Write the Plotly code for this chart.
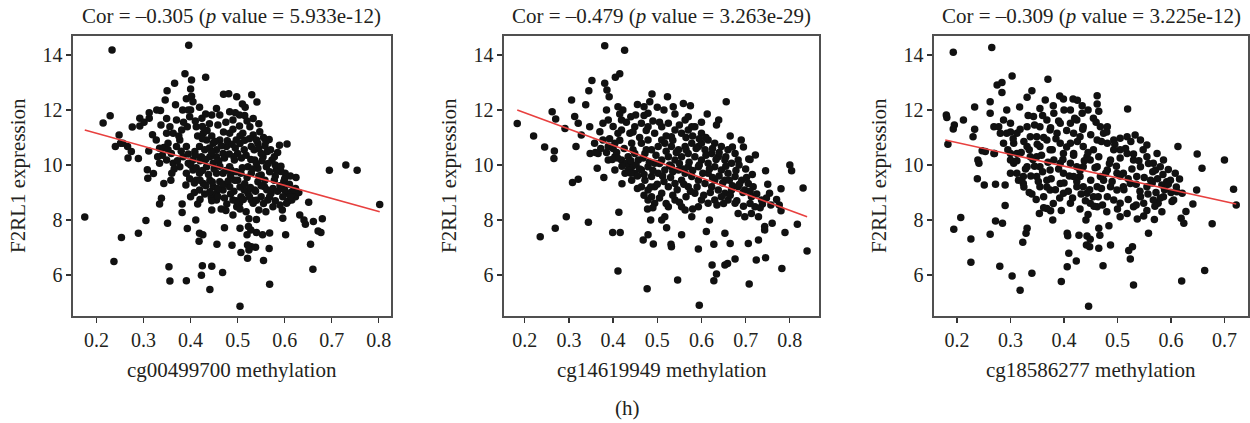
import plotly.graph_objects as go

# ---------------- data ----------------
titles = ["Cor = \u20130.305 (<i>p</i> value = 5.933e-12)",
          "Cor = \u20130.479 (<i>p</i> value = 3.263e-29)",
          "Cor = \u20130.309 (<i>p</i> value = 3.225e-12)"]
x_titles = ["cg00499700 methylation", "cg14619949 methylation", "cg18586277 methylation"]
y_title = "F2RL1 expression"
panel_label = "(h)"

x_ticks_1 = [0.2, 0.3, 0.4, 0.5, 0.6, 0.7, 0.8]
x_ticks_2 = [0.2, 0.3, 0.4, 0.5, 0.6, 0.7, 0.8]
x_ticks_3 = [0.2, 0.3, 0.4, 0.5, 0.6, 0.7]
y_ticks = [6, 8, 10, 12, 14]

x1 = [0.175,0.233,0.396,0.237,0.253,0.214,0.229,0.289,0.305,0.354,0.356,0.391,0.425,0.423,0.441,0.445,0.468,0.505,0.568,0.660,
      0.655,0.602,0.695,0.730,0.754,0.802,0.605,0.624,0.651,0.644,0.661,0.680,0.677,0.671,0.632,0.641,0.601,0.604,0.607,0.589,
      0.592,0.596,0.567,0.555,0.538,0.568,0.553,0.540,0.528,0.523,0.524,0.540,0.545,0.529,0.521,0.524,0.507,0.505,0.520,0.521,
      0.488,0.472,0.456,0.445,0.465,0.477,0.490,0.498,0.444,0.419,0.426,0.418,0.415,0.411,0.393,0.382,0.382,0.390,0.408,0.351,
      0.338,0.334,0.343,0.358,0.309,0.308,0.321,0.289,0.267,0.274,0.311,0.334,0.343,0.266,0.240,0.248,0.256,0.251,0.276,0.292,
      0.292,0.301,0.312,0.319,0.312,0.328,0.336,0.346,0.350,0.366,0.368,0.388,0.402,0.400,0.432,0.391,0.402,0.383,0.400,0.419,
      0.370,0.349,0.337,0.363,0.381,0.393,0.424,0.445,0.462,0.470,0.481,0.498,0.510,0.516,0.541,0.533,0.504,0.483,0.504,0.490,
      0.533,0.547,0.567,0.563,0.554,0.573,0.561,0.582,0.578,0.598,0.600,0.605,0.615,0.623,0.595,0.575,0.564,0.571,0.550,0.557,
      0.543,0.536,0.522,0.529,0.507,0.514,0.500,0.507,0.486,0.493,0.500,0.514,0.529,0.543,0.550,0.536,0.522,0.543,0.529,0.550,
      0.462,0.448,0.434,0.427,0.419,0.409,0.391,0.384,0.395,0.405,0.419,0.434,0.448,0.455,0.469,0.476,0.455,0.441,0.427,0.412,
      0.448,0.462,0.469,0.483,0.455,0.441,0.419,0.391,0.377,0.363,0.349,0.359,0.370,0.352,0.334,0.327,0.349,0.356,0.377,0.412,
      0.423,0.483,0.497,0.511,0.526,0.540,0.494,0.455,0.490,0.504,0.533,0.623,0.615,0.596,0.469,0.483,0.441,0.427,0.405]
y1 = [8.11,14.18,14.35,6.49,7.36,11.53,11.79,7.52,7.98,6.30,5.78,5.79,6.34,5.99,5.47,6.32,6.09,4.86,5.66,6.21,
      7.12,7.46,9.81,10.00,9.81,8.56,10.76,9.55,8.65,7.85,7.95,8.05,7.55,7.60,8.18,8.00,9.70,8.61,8.68,10.72,
      9.76,8.06,6.96,6.53,7.01,7.53,7.46,7.55,7.64,7.76,8.05,8.02,8.36,7.03,6.61,6.91,6.82,7.70,7.46,7.09,
      7.08,7.72,7.12,8.36,8.40,8.58,8.18,8.48,8.82,7.52,7.46,7.23,8.58,8.00,7.69,8.27,8.58,9.27,9.00,7.88,
      8.79,8.58,9.33,9.45,9.52,9.83,9.69,10.24,10.25,10.49,10.51,10.61,10.64,10.67,10.67,11.09,10.79,10.79,11.38,11.42,
      11.70,11.55,11.70,11.10,11.90,12.00,11.98,12.36,12.70,12.97,12.19,13.32,13.09,12.76,13.19,12.41,12.50,12.00,12.00,12.10,
      11.64,11.69,11.45,11.15,11.27,11.39,11.70,11.82,11.82,12.57,12.59,12.48,12.22,12.10,12.29,11.69,11.82,11.94,11.42,11.64,
      11.09,11.21,10.93,10.49,10.30,10.18,9.94,9.82,9.45,9.39,9.09,8.97,9.03,9.15,8.36,8.48,8.73,8.97,8.85,9.21,
      9.39,9.09,8.97,8.73,8.85,9.09,9.45,9.70,9.82,10.18,10.42,10.55,10.67,10.79,10.42,10.18,9.94,9.88,9.70,9.64,
      10.91,10.79,10.91,11.15,10.67,10.49,10.67,10.30,10.06,9.82,9.70,9.94,10.06,10.30,10.42,10.67,9.70,9.45,9.33,9.45,
      9.21,9.39,9.09,9.21,8.97,9.03,9.09,9.70,9.94,10.06,10.18,10.42,10.67,10.79,10.06,10.91,11.15,11.39,10.91,11.39,
      10.30,11.15,10.91,11.15,11.39,10.91,9.45,8.73,8.73,8.61,8.61,8.85,8.73,8.85,9.70,9.94,10.30,10.18,10.18]
x1_core = [0.415,0.425,0.435,0.445,0.452,0.430,0.440,0.455,0.465,0.478,0.488,0.495,0.505,0.515,0.525,0.535,0.545,0.558,0.505,0.490,
           0.470,0.458,0.440,0.520,0.545,0.555,0.410,0.420,0.432,0.445,0.460,0.472,0.482,0.492,0.508,0.518,0.528,0.540,0.552,0.565,
           0.578,0.585,0.400,0.412,0.425,0.438,0.450,0.462,0.475,0.485,0.497,0.510,0.520,0.532,0.545,0.558,0.568,0.580,0.590,0.398,
           0.408,0.420,0.432,0.446,0.458,0.470,0.480,0.492,0.505,0.515,0.527,0.538,0.550,0.562,0.575,0.585,0.595,0.430,0.445,0.458,
           0.472,0.485,0.497,0.512,0.525,0.540,0.555,0.568,0.580,0.590,0.610,0.620,0.630,0.612,0.475,0.505,0.518,0.560,0.420,0.400,
           0.395,0.380,0.372,0.365,0.360,0.352,0.340,0.330,0.375,0.385,0.398,0.410,0.425,0.432,0.405,0.395,0.455,0.475,0.495,0.515,
           0.530,0.560,0.570,0.580,0.592,0.600,0.612]
y1_core = [11.05,10.95,11.25,11.05,10.85,10.55,10.62,10.55,10.70,10.88,10.75,10.62,10.78,10.90,10.95,10.55,10.60,10.70,11.05,11.30,
           11.20,11.45,11.50,11.60,11.50,11.00,10.35,10.15,10.20,10.45,10.15,10.25,10.40,10.30,10.25,10.35,10.20,10.05,10.15,10.05,
           10.30,10.45,10.00,9.90,9.80,9.65,9.85,9.95,9.80,9.60,9.75,9.90,9.55,9.85,9.60,9.45,9.75,9.60,9.25,9.50,
           9.35,9.45,9.25,9.38,9.15,9.30,9.42,9.05,9.20,9.32,9.18,9.05,9.25,9.10,9.15,9.05,9.15,8.95,8.70,8.85,
           8.80,8.95,8.70,8.75,8.85,8.72,8.60,8.85,8.70,8.55,9.30,9.10,9.00,8.85,8.35,8.40,8.30,8.30,8.75,8.85,
           10.40,10.50,10.15,9.85,9.70,10.55,10.35,10.30,11.05,11.55,11.75,11.60,11.40,11.85,12.30,12.00,12.05,11.55,11.90,11.80,
           12.55,10.85,10.55,10.00,9.95,9.50,9.60]

x2 = [0.183,0.220,0.245,0.235,0.269,0.294,0.266,0.267,0.262,0.270,0.291,0.306,0.308,0.321,0.316,0.313,0.321,0.328,0.344,0.338,
      0.345,0.352,0.347,0.348,0.364,0.379,0.381,0.386,0.391,0.381,0.426,0.405,0.415,0.411,0.413,0.399,0.416,0.420,0.477,0.468,
      0.479,0.491,0.485,0.478,0.510,0.521,0.531,0.532,0.546,0.555,0.593,0.595,0.624,0.628,0.634,0.628,0.618,0.611,0.653,0.653,
      0.659,0.665,0.676,0.706,0.708,0.724,0.729,0.745,0.743,0.743,0.760,0.782,0.789,0.817,0.839,0.830,0.780,0.800,0.804,0.776,
      0.780,0.754,0.738,0.745,0.722,0.707,0.690,0.656,0.639,0.634,0.613,0.575,0.559,0.536,0.523,0.488,0.470,0.479,0.451,0.438,
      0.419,0.422,0.411,0.385,0.377,0.370,0.377,0.389,0.404,0.411,0.404,0.389,0.419,0.434,0.449,0.442,0.464,0.479,0.494,0.510,
      0.525,0.540,0.555,0.570,0.585,0.600,0.615,0.630,0.645,0.660,0.676,0.683,0.668,0.653,0.638,0.623,0.608,0.593,0.578,0.563,
      0.548,0.532,0.517,0.502,0.487,0.472,0.457,0.442,0.427,0.449,0.464,0.479,0.494,0.510,0.525,0.540,0.555,0.570,0.585,0.600,
      0.615,0.630,0.645,0.660,0.676,0.691,0.706,0.717,0.698,0.683,0.668,0.653,0.638,0.623,0.608,0.593,0.578,0.563,0.548,0.532,
      0.517,0.502,0.487,0.472,0.464,0.479,0.487,0.494,0.510,0.525,0.540,0.555,0.570,0.585,0.600,0.615,0.630,0.645,0.660,0.676,
      0.683,0.698,0.713,0.729,0.721,0.736,0.713,0.578,0.563,0.540,0.525,0.517,0.555,0.593,0.442,0.434,0.404,0.366,0.358,0.389,
      0.419,0.449,0.464,0.479,0.510,0.532,0.563,0.578,0.600,0.570,0.593,0.615,0.630,0.653,0.494,0.479]
y2 = [11.51,11.05,10.65,7.39,7.70,8.12,10.24,10.51,11.94,11.67,11.33,12.36,9.36,9.48,10.67,11.76,11.52,11.09,7.92,12.19,
      12.70,13.07,11.39,10.42,9.88,9.55,12.97,12.73,12.48,14.34,14.17,13.19,13.32,6.15,8.28,7.55,7.55,9.32,5.50,7.27,
      7.46,7.13,8.00,8.40,8.00,7.72,7.12,7.03,5.82,7.46,6.95,4.90,6.36,5.79,6.04,7.12,8.00,7.58,7.52,6.36,
      6.42,7.15,6.58,7.15,5.67,6.55,7.27,6.63,7.64,7.76,7.88,6.24,7.55,7.85,6.87,9.16,9.14,10.00,9.79,8.55,
      8.34,8.97,8.58,9.79,10.36,10.22,10.91,12.30,11.64,11.45,11.85,12.15,12.24,12.12,12.48,12.58,12.12,11.88,11.82,11.15,
      11.27,12.00,12.12,12.00,11.52,11.21,10.91,10.67,10.79,11.15,10.30,10.18,10.18,10.30,10.42,10.79,10.79,10.91,11.15,11.39,
      11.52,11.27,11.15,11.27,11.39,11.15,10.91,10.79,10.67,10.55,10.42,10.18,10.06,10.18,10.30,10.42,10.55,10.67,10.79,10.67,
      10.55,10.67,10.79,10.67,10.55,10.42,10.18,9.94,9.70,9.70,9.82,9.94,10.06,10.18,10.30,10.18,10.30,10.42,10.30,10.18,
      10.06,9.94,9.82,9.70,9.58,9.45,9.33,9.21,9.09,9.21,9.09,8.97,9.09,9.21,9.33,9.45,9.58,9.70,9.82,9.94,
      9.82,9.70,9.58,9.45,9.21,9.09,8.85,8.61,8.97,9.21,9.33,9.45,9.21,8.97,8.73,8.61,8.73,8.85,8.73,8.61,
      8.24,8.12,8.24,8.12,8.48,8.73,8.85,8.12,8.36,8.73,8.48,8.12,8.48,8.48,9.45,9.82,9.82,10.42,10.79,11.64,
      11.64,11.39,11.52,11.39,10.91,11.03,11.64,11.39,10.79,9.94,9.94,9.70,9.45,9.45,9.21,8.73]
x2_core = [0.392,0.400,0.408,0.415,0.425,0.430,0.440,0.445,0.452,0.460,0.468,0.475,0.482,0.490,0.497,0.505,0.512,0.520,0.528,0.535,
           0.543,0.550,0.558,0.565,0.572,0.580,0.588,0.595,0.603,0.610,0.618,0.625,0.633,0.640,0.648,0.655,0.663,0.670,0.678,0.686,
           0.694,0.702,0.710,0.560,0.575,0.590,0.605,0.620,0.635,0.650,0.665,0.680,0.695,0.710,0.545,0.530,0.515,0.500,0.485,0.470,
           0.455,0.440,0.420,0.410,0.398,0.385,0.372,0.360,0.400,0.415,0.430,0.445,0.460,0.475,0.490,0.505,0.520,0.535,0.550,0.565,
           0.580,0.595,0.610,0.625,0.640,0.655,0.670,0.685,0.700,0.715,0.725,0.733,0.747,0.757,0.770,0.750,0.695,0.665,0.710,0.600,
           0.570,0.540,0.515,0.500,0.483,0.470,0.455,0.440,0.505,0.520,0.535,0.550,0.565,0.580,0.470,0.455,0.490]
y2_core = [10.95,10.60,10.45,10.90,10.60,10.05,10.15,10.55,10.00,9.85,10.25,10.55,10.10,9.80,10.35,10.05,9.60,10.50,10.00,9.75,
           10.45,10.05,9.85,10.55,10.10,9.80,10.60,10.00,9.70,10.35,9.85,9.55,10.20,9.60,9.35,9.95,9.45,9.25,9.80,9.30,
           9.00,9.55,9.05,9.30,9.05,9.20,8.90,9.00,8.55,8.60,8.90,8.70,8.50,8.60,9.10,9.55,9.40,9.30,9.20,9.65,
           9.60,9.70,9.95,10.25,10.20,10.45,10.60,10.45,11.40,11.85,11.55,11.20,11.00,11.25,11.60,11.55,11.05,10.90,11.45,11.00,
           11.05,10.95,11.00,10.60,10.45,10.30,10.65,10.00,9.85,9.65,8.95,8.45,8.80,8.55,8.75,9.30,10.65,11.05,10.20,11.55,
           11.75,11.85,12.00,12.10,12.30,11.80,12.20,11.75,8.80,8.60,8.90,8.65,8.85,8.40,8.90,9.15,8.45]

x3 = [0.180,0.181,0.183,0.193,0.194,0.195,0.193,0.212,0.207,0.226,0.226,0.233,0.233,0.230,0.239,0.238,0.241,0.247,0.253,0.251,
      0.262,0.265,0.262,0.262,0.269,0.270,0.272,0.272,0.275,0.284,0.284,0.280,0.285,0.290,0.290,0.303,0.303,0.318,0.323,0.331,
      0.329,0.340,0.340,0.354,0.340,0.331,0.317,0.365,0.370,0.375,0.379,0.368,0.395,0.392,0.399,0.406,0.407,0.409,0.406,0.423,
      0.428,0.441,0.443,0.442,0.446,0.448,0.449,0.417,0.434,0.434,0.462,0.462,0.455,0.465,0.467,0.465,0.473,0.484,0.487,0.519,
      0.521,0.528,0.524,0.530,0.537,0.549,0.558,0.569,0.613,0.616,0.619,0.620,0.624,0.628,0.641,0.649,0.648,0.658,0.663,0.677,
      0.700,0.717,0.722,0.621,0.611,0.608,0.595,0.592,0.583,0.586,0.602,0.583,0.576,0.567,0.555,0.562,0.571,0.580,0.567,0.555,
      0.555,0.543,0.533,0.518,0.505,0.505,0.518,0.530,0.543,0.536,0.524,0.511,0.499,0.505,0.518,0.530,0.543,0.549,0.493,0.481,
      0.487,0.474,0.481,0.487,0.493,0.481,0.474,0.468,0.481,0.462,0.455,0.449,0.462,0.468,0.462,0.455,0.462,0.449,0.443,0.436,
      0.430,0.436,0.443,0.436,0.430,0.436,0.424,0.412,0.412,0.418,0.412,0.418,0.412,0.424,0.418,0.424,0.412,0.399,0.393,0.399,
      0.393,0.399,0.393,0.387,0.393,0.381,0.368,0.374,0.368,0.374,0.381,0.374,0.368,0.374,0.362,0.355,0.349,0.355,0.349,0.355,
      0.349,0.355,0.343,0.331,0.337,0.331,0.337,0.331,0.324,0.312,0.306,0.312,0.306,0.312,0.300,0.293,0.287,0.293,0.287,0.300,
      0.300,0.324,0.278,0.281,0.269,0.300,0.574,0.586,0.599,0.605,0.505,0.511,0.499,0.493]
y3 = [11.82,11.73,10.75,14.10,7.66,11.45,11.31,11.64,8.09,7.31,6.46,12.11,11.30,11.03,10.18,9.50,10.06,10.52,10.49,9.27,
      12.30,14.27,11.88,7.48,11.39,10.42,9.30,7.96,12.91,13.00,12.64,6.32,7.88,9.27,8.53,13.24,5.96,5.45,7.19,7.70,
      7.52,6.06,8.95,8.24,12.70,12.46,12.11,12.36,13.12,8.34,8.00,8.42,5.76,12.51,12.40,7.52,7.43,6.79,6.30,6.51,
      7.45,8.00,7.42,7.09,4.86,7.03,7.30,12.40,12.15,11.88,12.52,12.22,11.70,7.70,7.45,6.97,6.34,7.79,7.09,12.04,
      6.89,7.03,6.58,5.64,8.04,8.15,7.52,8.02,10.67,9.49,8.06,5.78,7.88,8.31,8.58,10.40,9.09,9.88,6.16,7.86,
      10.18,9.12,8.55,8.97,9.03,9.70,9.84,9.39,9.27,8.85,8.67,8.30,8.61,8.73,9.21,9.45,9.82,9.94,10.06,10.30,
      10.73,10.91,11.09,11.03,10.97,10.55,10.42,10.18,9.94,9.58,9.33,9.21,9.09,8.61,8.24,8.48,8.85,8.61,8.73,8.85,
      9.21,9.45,9.82,10.18,10.55,10.79,11.15,11.39,11.39,10.91,10.55,10.18,9.94,9.58,9.21,8.85,8.48,8.61,8.97,9.21,
      9.58,9.94,10.30,10.67,11.03,11.39,11.64,12.00,11.52,11.15,10.79,10.42,10.06,9.94,9.58,9.21,8.61,8.97,9.33,9.70,
      10.06,10.42,10.79,11.15,11.52,11.88,11.64,11.27,10.91,10.55,10.18,9.82,9.45,9.09,8.85,9.21,9.58,9.94,10.30,10.67,
      11.03,11.39,11.76,11.39,11.03,10.67,10.30,9.94,9.58,9.70,10.06,10.42,10.79,11.15,11.52,12.00,11.64,11.15,10.79,10.42,
      9.70,9.33,11.39,11.15,10.42,10.18,10.42,10.18,9.45,8.73,8.12,9.70,9.70,10.91]
x3_core = [0.305,0.318,0.325,0.335,0.342,0.350,0.358,0.362,0.370,0.378,0.385,0.390,0.398,0.405,0.410,0.418,0.425,0.430,0.438,0.445,
           0.450,0.458,0.465,0.470,0.478,0.485,0.490,0.498,0.505,0.512,0.520,0.527,0.535,0.542,0.550,0.557,0.565,0.572,0.580,0.588,
           0.595,0.312,0.320,0.328,0.338,0.345,0.352,0.360,0.368,0.376,0.384,0.392,0.400,0.408,0.416,0.424,0.432,0.440,0.448,0.456,
           0.464,0.472,0.480,0.345,0.360,0.375,0.390,0.405,0.420,0.435,0.450,0.460,0.470,0.480,0.495,0.505,0.515,0.525,0.530,0.540,
           0.548,0.558,0.566,0.575,0.585,0.600,0.610,0.333,0.355,0.380,0.400,0.425,0.445,0.465,0.300,0.295,0.315,0.325,0.335,0.348,
           0.362,0.380,0.395,0.430,0.445,0.500,0.520,0.535,0.555,0.570]
y3_core = [10.95,11.30,10.85,10.55,10.20,10.75,10.35,11.00,10.10,10.55,10.95,9.85,10.20,10.65,9.60,10.35,10.85,9.80,10.15,10.45,
           9.45,9.90,10.30,9.15,9.70,10.05,9.40,9.95,9.60,9.10,9.50,9.85,9.30,9.05,9.55,8.95,9.35,9.00,8.80,9.10,
           9.30,10.15,10.45,9.85,9.60,9.95,9.40,9.75,9.20,9.50,9.10,8.80,9.35,9.05,8.80,9.40,8.95,8.70,9.10,8.50,
           8.85,8.55,8.30,11.45,11.80,11.35,11.60,11.25,11.70,11.30,11.10,11.55,10.85,11.20,10.75,10.25,10.60,10.85,10.40,10.15,
           10.55,10.05,9.75,9.50,9.65,9.00,9.20,11.80,12.05,12.15,12.00,12.35,12.00,11.95,11.20,10.55,9.45,9.20,9.00,8.75,
           8.45,8.60,8.35,8.40,8.20,8.40,8.75,8.55,8.35,8.50]

# fitted regression line endpoints
fit_x1 = [0.175, 0.802]
fit_y1 = [11.27, 8.30]
fit_x2 = [0.183, 0.839]
fit_y2 = [12.00, 8.12]
fit_x3 = [0.178, 0.722]
fit_y3 = [10.91, 8.58]

x_ranges = [[0.150, 0.826], [0.153, 0.866], [0.157, 0.744]]
y_range = [4.51, 14.69]

# ---------------- figure ----------------
W, H = 1250, 423
FONT = "Liberation Serif"
TXT = "#231f20"
AX = "#505050"
PT = "#111111"
RED = "#e8403f"

# plot boxes in pixels (left, right), shared top/bottom
boxes = [(73, 391), (504, 819), (934, 1248)]
top_px, bot_px = 36, 316

fig = go.Figure()
series = [(x1 + x1_core, y1 + y1_core, fit_x1, fit_y1, x_ticks_1),
          (x2 + x2_core, y2 + y2_core, fit_x2, fit_y2, x_ticks_2),
          (x3 + x3_core, y3 + y3_core, fit_x3, fit_y3, x_ticks_3)]

layout = dict(
    width=W, height=H,
    margin=dict(l=0, r=0, t=0, b=0),
    paper_bgcolor="white", plot_bgcolor="white",
    showlegend=False,
    font=dict(family=FONT, color=TXT, size=20),
)
annotations = []
for i, (xs, ys, fx, fy, xt) in enumerate(series):
    n = "" if i == 0 else str(i + 1)
    fig.add_trace(go.Scatter(x=xs, y=ys, mode="markers",
                             marker=dict(color=PT, size=7.5, line=dict(width=0)),
                             xaxis="x" + n, yaxis="y" + n, hoverinfo="skip"))
    fig.add_trace(go.Scatter(x=fx, y=fy, mode="lines",
                             line=dict(color=RED, width=1.6),
                             xaxis="x" + n, yaxis="y" + n, hoverinfo="skip"))
    l, r = boxes[i]
    common = dict(showline=True, mirror=True, linecolor=AX, linewidth=1.6,
                  ticks="outside", ticklen=5, tickwidth=1.3, tickcolor="#333",
                  showgrid=False, zeroline=False,
                  tickfont=dict(family=FONT, size=20, color=TXT))
    layout["xaxis" + n] = dict(domain=[l / W, r / W], range=x_ranges[i],
                               tickvals=xt, ticktext=[f"{v:.1f}" for v in xt],
                               anchor="y" + n, **common)
    layout["yaxis" + n] = dict(domain=[1 - bot_px / H, 1 - top_px / H], range=y_range,
                               tickvals=y_ticks, anchor="x" + n, **common)
    cx = (l + r) / 2
    annotations.append(dict(text=titles[i], x=cx / W, y=1 - 16 / H, xref="paper", yref="paper",
                            showarrow=False, xanchor="center", yanchor="middle",
                            font=dict(family=FONT, size=21, color=TXT)))
    annotations.append(dict(text=x_titles[i], x=cx / W, y=1 - 370 / H, xref="paper", yref="paper",
                            showarrow=False, xanchor="center", yanchor="middle",
                            font=dict(family=FONT, size=21, color=TXT)))
    annotations.append(dict(text=y_title, x=(l - 55) / W, y=1 - 176 / H, xref="paper", yref="paper",
                            showarrow=False, xanchor="center", yanchor="middle", textangle=-90,
                            font=dict(family=FONT, size=21, color=TXT)))

annotations.append(dict(text=panel_label, x=627 / W, y=1 - 408 / H, xref="paper", yref="paper",
                        showarrow=False, xanchor="center", yanchor="middle",
                        font=dict(family=FONT, size=21, color=TXT)))
layout["annotations"] = annotations
fig.update_layout(**layout)
fig.write_html("out.html",
               config={"displayModeBar": False, "staticPlot": True},
               post_script="document.body.style.margin='0';document.body.style.padding='0';"
                           "document.documentElement.style.overflow='hidden';")
